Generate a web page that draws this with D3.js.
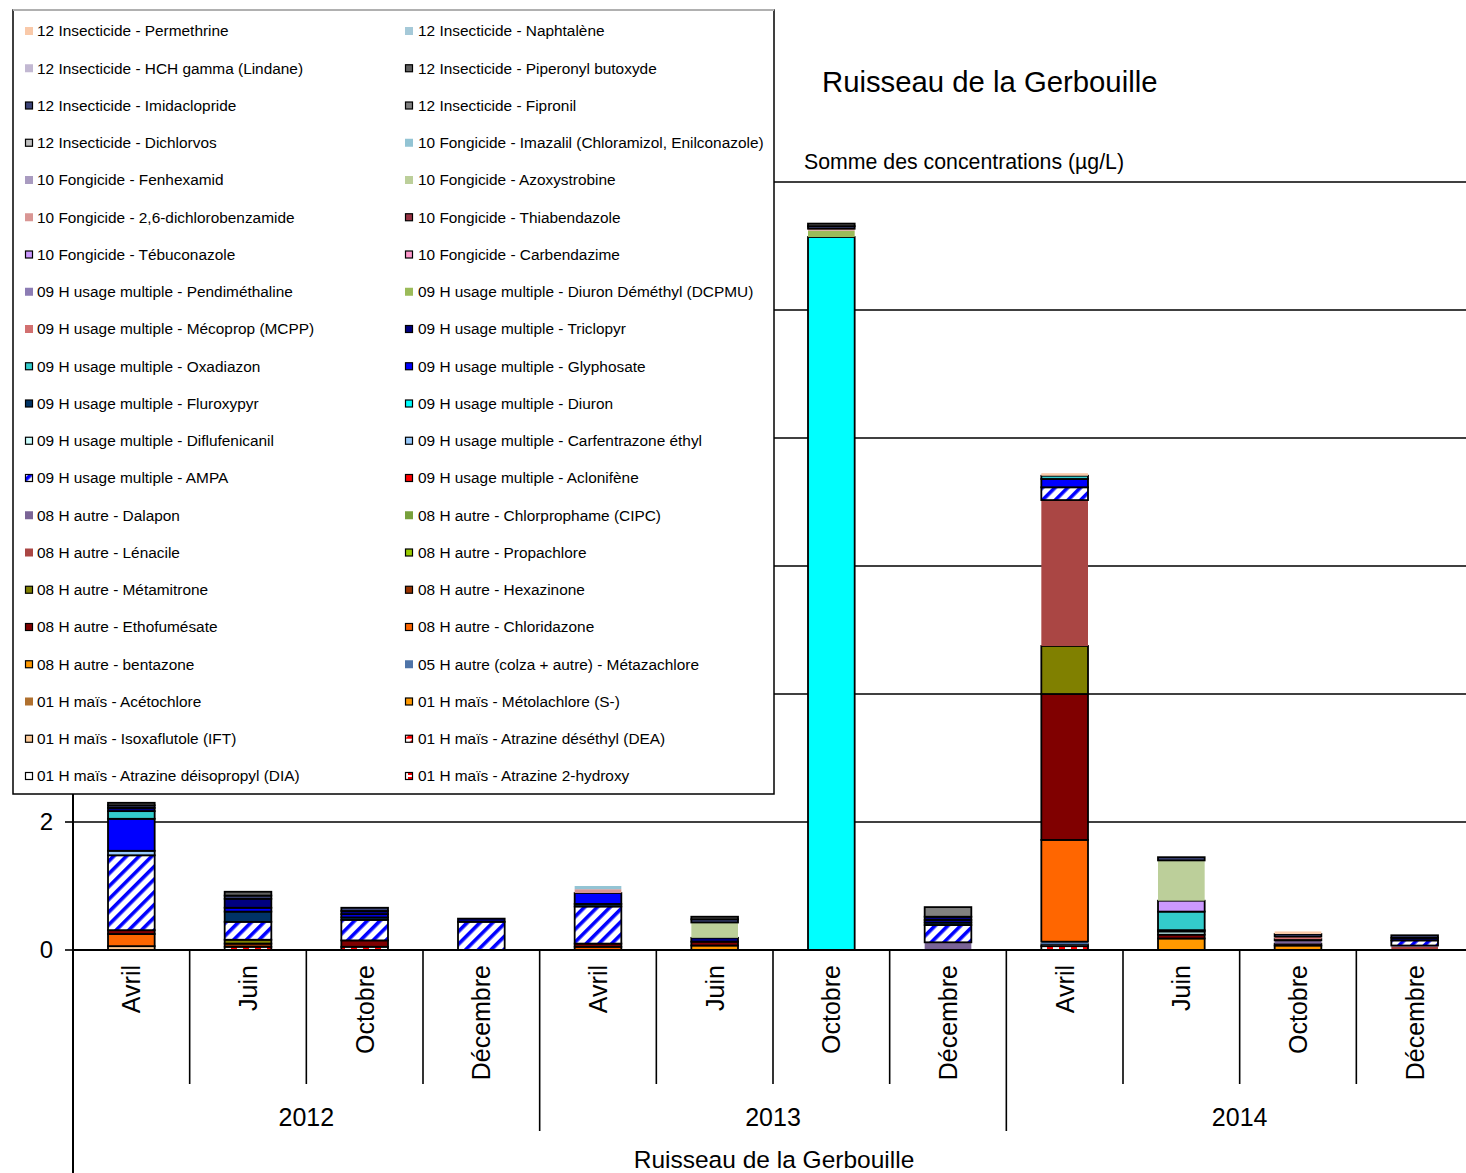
<!DOCTYPE html>
<html>
<head>
<meta charset="utf-8">
<script src="https://cdn.jsdelivr.net/npm/d3@7"></script>
<style>
  body { margin: 0; background: #fff; }
  svg { display: block; font-family: "Liberation Sans", Arial, sans-serif; }
</style>
</head>
<body>
<svg id="chart" width="1466" height="1173"></svg>
<script>
// ---- Data -------------------------------------------------------------
const months = ["Avril", "Juin", "Octobre", "Décembre",
                "Avril", "Juin", "Octobre", "Décembre",
                "Avril", "Juin", "Octobre", "Décembre"];
const years = ["2012", "2013", "2014"];
const yTicks = [0, 2, 4, 6, 8, 10, 12];

// Legend order (read row by row, two columns); stacking goes the other way round.
const seriesNames = [
  "12 Insecticide - Permethrine", "12 Insecticide - Naphtalène",
  "12 Insecticide - HCH gamma (Lindane)", "12 Insecticide - Piperonyl butoxyde",
  "12 Insecticide - Imidaclopride", "12 Insecticide - Fipronil",
  "12 Insecticide - Dichlorvos", "10 Fongicide - Imazalil (Chloramizol, Enilconazole)",
  "10 Fongicide - Fenhexamid", "10 Fongicide - Azoxystrobine",
  "10 Fongicide - 2,6-dichlorobenzamide", "10 Fongicide - Thiabendazole",
  "10 Fongicide - Tébuconazole", "10 Fongicide - Carbendazime",
  "09 H usage multiple - Pendiméthaline", "09 H usage multiple - Diuron Déméthyl (DCPMU)",
  "09 H usage multiple - Mécoprop (MCPP)", "09 H usage multiple - Triclopyr",
  "09 H usage multiple - Oxadiazon", "09 H usage multiple - Glyphosate",
  "09 H usage multiple - Fluroxypyr", "09 H usage multiple - Diuron",
  "09 H usage multiple - Diflufenicanil", "09 H usage multiple - Carfentrazone éthyl",
  "09 H usage multiple - AMPA", "09 H usage multiple - Aclonifène",
  "08 H autre - Dalapon", "08 H autre - Chlorprophame (CIPC)",
  "08 H autre - Lénacile", "08 H autre - Propachlore",
  "08 H autre - Métamitrone", "08 H autre - Hexazinone",
  "08 H autre - Ethofumésate", "08 H autre - Chloridazone",
  "08 H autre - bentazone", "05 H autre (colza + autre) - Métazachlore",
  "01 H maïs - Acétochlore", "01 H maïs - Métolachlore (S-)",
  "01 H maïs - Isoxaflutole (IFT)", "01 H maïs - Atrazine déséthyl (DEA)",
  "01 H maïs - Atrazine déisopropyl (DIA)", "01 H maïs - Atrazine 2-hydroxy"
];

const seriesFills = [
  "#F9C9A9", "#A5C9D8",
  "#C2B8D2", "#606060",
  "#3C4478", "#808080",
  "#C0C0C0", "#93C4D4",
  "#A99BC0", "#BCCF9A",
  "#D99694", "#993344",
  "#CC99FF", "#FF99CC",
  "#8C7CB4", "#9BBB59",
  "#D27070", "#000080",
  "#33CCCC", "#0000FF",
  "#003366", "#00FFFF",
  "#CCFFFF", "#99CCFF",
  "url(#hatchAmpa)", "#FF0000",
  "#7A6496", "#77A03C",
  "#AA4644", "#99CC00",
  "#808000", "#993300",
  "#800000", "#FF6600",
  "#FF9900", "#4F74A8",
  "#B0702E", "#FF9900",
  "#FFCC99", "url(#splitDea)",
  "#FFFFFF", "url(#dashHydroxy)"
];

const seriesOutlined = [
  false, false,
  false, true,
  true, true,
  true, false,
  false, false,
  false, true,
  true, true,
  false, false,
  false, true,
  true, true,
  true, true,
  true, true,
  true, true,
  false, false,
  false, true,
  true, true,
  true, true,
  true, false,
  false, true,
  true, true,
  true, true
];

// Concentrations (µg/L) per sampling date, Avril 2012 … Décembre 2014
const permethrine    = [0, 0, 0, 0, 0, 0, 0, 0, 0.04, 0, 0.04, 0];
const piperonyl      = [0.04, 0.06, 0, 0, 0, 0.04, 0.04, 0, 0, 0, 0, 0];
const imidaclopride  = [0.04, 0.05, 0.05, 0, 0, 0.05, 0.04, 0, 0, 0.05, 0.04, 0.04];
const fipronil       = [0, 0, 0, 0, 0, 0, 0, 0.15, 0, 0, 0, 0];
const imazalil       = [0, 0, 0, 0, 0.05, 0, 0, 0, 0, 0, 0, 0];
const azoxystrobine  = [0, 0, 0, 0, 0, 0.24, 0, 0, 0, 0.63, 0, 0];
const dichlorobenzamide = [0, 0, 0, 0, 0.06, 0, 0.03, 0, 0, 0, 0, 0];
const tebuconazole   = [0, 0, 0, 0, 0, 0, 0, 0, 0, 0.17, 0, 0];
const dcpmu          = [0, 0, 0, 0, 0, 0, 0.10, 0, 0, 0, 0, 0];
const mecoprop       = [0, 0, 0, 0, 0, 0, 0, 0, 0, 0, 0.04, 0];
const triclopyr      = [0.05, 0.14, 0.05, 0.05, 0, 0.06, 0, 0.05, 0, 0, 0.02, 0.04];
const oxadiazon      = [0.12, 0, 0, 0, 0, 0, 0, 0, 0.05, 0.29, 0, 0];
const glyphosate     = [0.50, 0.06, 0.05, 0, 0.17, 0, 0, 0.04, 0.13, 0, 0, 0];
const fluroxypyr     = [0, 0.16, 0.04, 0, 0.04, 0, 0, 0.04, 0, 0.02, 0, 0];
const diuron         = [0, 0, 0, 0, 0, 0, 11.14, 0, 0, 0, 0, 0];
const diflufenicanil = [0, 0, 0, 0, 0, 0, 0, 0, 0, 0.05, 0, 0];
const carfentrazone  = [0.07, 0, 0, 0, 0, 0, 0, 0, 0, 0, 0, 0];
const ampa           = [1.17, 0.28, 0.32, 0.44, 0.58, 0, 0, 0.27, 0.20, 0, 0, 0.08];
const dalapon        = [0, 0, 0, 0, 0, 0, 0, 0.12, 0, 0, 0.05, 0.02];
const lenacile       = [0, 0, 0, 0, 0, 0, 0, 0, 2.28, 0, 0, 0.05];
const metamitrone    = [0, 0.06, 0, 0, 0, 0, 0, 0, 0.75, 0, 0, 0];
const hexazinone     = [0, 0.05, 0, 0, 0, 0, 0, 0, 0, 0, 0, 0];
const ethofumesate   = [0.06, 0, 0.10, 0, 0.05, 0.06, 0, 0, 2.28, 0.06, 0.03, 0];
const chloridazone   = [0.19, 0, 0, 0, 0.05, 0, 0, 0, 1.59, 0, 0, 0];
const metazachlore   = [0, 0, 0, 0, 0, 0, 0, 0, 0.04, 0, 0, 0];
const metolachlore   = [0, 0, 0, 0, 0, 0.07, 0, 0, 0, 0.18, 0.07, 0];
const isoxaflutole   = [0.06, 0, 0, 0, 0, 0, 0, 0, 0, 0, 0, 0];
const atrazineDia    = [0, 0, 0, 0, 0, 0, 0, 0, 0.03, 0, 0, 0];
const atrazineHydroxy = [0, 0.05, 0.05, 0, 0, 0, 0, 0, 0.06, 0, 0, 0];

const seriesValues = new Map([
  ["12 Insecticide - Permethrine", permethrine],
  ["12 Insecticide - Piperonyl butoxyde", piperonyl],
  ["12 Insecticide - Imidaclopride", imidaclopride],
  ["12 Insecticide - Fipronil", fipronil],
  ["10 Fongicide - Imazalil (Chloramizol, Enilconazole)", imazalil],
  ["10 Fongicide - Azoxystrobine", azoxystrobine],
  ["10 Fongicide - 2,6-dichlorobenzamide", dichlorobenzamide],
  ["10 Fongicide - Tébuconazole", tebuconazole],
  ["09 H usage multiple - Diuron Déméthyl (DCPMU)", dcpmu],
  ["09 H usage multiple - Mécoprop (MCPP)", mecoprop],
  ["09 H usage multiple - Triclopyr", triclopyr],
  ["09 H usage multiple - Oxadiazon", oxadiazon],
  ["09 H usage multiple - Glyphosate", glyphosate],
  ["09 H usage multiple - Fluroxypyr", fluroxypyr],
  ["09 H usage multiple - Diuron", diuron],
  ["09 H usage multiple - Diflufenicanil", diflufenicanil],
  ["09 H usage multiple - Carfentrazone éthyl", carfentrazone],
  ["09 H usage multiple - AMPA", ampa],
  ["08 H autre - Dalapon", dalapon],
  ["08 H autre - Lénacile", lenacile],
  ["08 H autre - Métamitrone", metamitrone],
  ["08 H autre - Hexazinone", hexazinone],
  ["08 H autre - Ethofumésate", ethofumesate],
  ["08 H autre - Chloridazone", chloridazone],
  ["05 H autre (colza + autre) - Métazachlore", metazachlore],
  ["01 H maïs - Métolachlore (S-)", metolachlore],
  ["01 H maïs - Isoxaflutole (IFT)", isoxaflutole],
  ["01 H maïs - Atrazine déisopropyl (DIA)", atrazineDia],
  ["01 H maïs - Atrazine 2-hydroxy", atrazineHydroxy]
]);

// ---- Layout -----------------------------------------------------------
const W = 1466, H = 1173;
// the category axis runs a little past the right edge of the page
const plotLeft = 73, plotRight = 1473, plotBottom = 950, plotTop = 182;
const legendBox = { x: 13, y: 10, w: 761, h: 784 };
const svg = d3.select("#chart");
const font = "'Liberation Sans', Arial, sans-serif";

// Fill patterns
const defs = svg.append("defs");
const hatch = defs.append("pattern").attr("id", "hatchAmpa")
  .attr("patternUnits", "userSpaceOnUse").attr("width", 9).attr("height", 9)
  .attr("patternTransform", "rotate(45)");
hatch.append("rect").attr("width", 9).attr("height", 9).attr("fill", "#fff");
hatch.append("rect").attr("width", 3.6).attr("height", 9).attr("fill", "#0000FF");

const split = defs.append("pattern").attr("id", "splitDea")
  .attr("patternUnits", "userSpaceOnUse").attr("width", 8).attr("height", 8);
split.append("rect").attr("width", 8).attr("height", 8).attr("fill", "#fff");
split.append("path").attr("d", "M0,8 L8,0 L8,8 Z").attr("fill", "#FF0000");

const dash = defs.append("pattern").attr("id", "dashHydroxy")
  .attr("patternUnits", "userSpaceOnUse").attr("width", 12).attr("height", 5);
dash.append("rect").attr("width", 12).attr("height", 5).attr("fill", "#fff");
dash.append("rect").attr("x", 3).attr("y", 1).attr("width", 6).attr("height", 3).attr("fill", "#FF0000");

// Scales
const idx = d3.range(months.length);
const x = d3.scaleBand().domain(idx).range([plotLeft, plotRight])
  .paddingInner(0.6).paddingOuter(0.3);
const y = d3.scaleLinear().domain([0, 12]).range([plotBottom, plotTop]);

// Stacked table
const stackKeys = seriesNames.slice().reverse();
const table = idx.map(i => {
  const row = { i };
  stackKeys.forEach(k => { const v = seriesValues.get(k); row[k] = v ? v[i] : 0; });
  return row;
});
const stacked = d3.stack().keys(stackKeys)(table);
const fillOf = name => seriesFills[seriesNames.indexOf(name)];
const outlineOf = name => seriesOutlined[seriesNames.indexOf(name)];

// Horizontal gridlines
svg.append("g").selectAll("line").data(yTicks.filter(t => t > 0)).join("line")
  .attr("x1", plotLeft).attr("x2", plotRight)
  .attr("y1", d => y(d)).attr("y2", d => y(d))
  .attr("stroke", "#000").attr("stroke-width", 1.6);

// Bars
const barLayer = svg.append("g");
stacked.forEach(s => {
  const outlined = outlineOf(s.key);
  barLayer.append("g").selectAll("rect")
    .data(s.filter(d => d[1] - d[0] > 0))
    .join("rect")
    .attr("x", d => x(d.data.i))
    .attr("width", x.bandwidth())
    .attr("y", d => y(d[1]))
    .attr("height", d => y(d[0]) - y(d[1]))
    .attr("fill", fillOf(s.key))
    .attr("stroke", outlined ? "#000" : "none")
    .attr("stroke-width", outlined ? 1.8 : 0);
});

// Y axis (upper labels sit under the legend box, so only the visible ones are written)
const yAxis = svg.append("g");
yAxis.append("line").attr("x1", plotLeft).attr("x2", plotLeft)
  .attr("y1", plotTop).attr("y2", H).attr("stroke", "#000").attr("stroke-width", 2);
yAxis.selectAll(".tk").data(yTicks).join("line")
  .attr("x1", plotLeft - 8).attr("x2", plotLeft)
  .attr("y1", d => y(d)).attr("y2", d => y(d))
  .attr("stroke", "#000").attr("stroke-width", 1.6);
yAxis.selectAll("text").data(yTicks.filter(t => y(t) > legendBox.y + legendBox.h + 12)).join("text")
  .attr("x", plotLeft - 20).attr("y", d => y(d)).attr("dy", "0.35em")
  .attr("text-anchor", "end").attr("font-size", 24).attr("font-family", font)
  .text(d => d);

// X axis baseline
svg.append("line").attr("x1", plotLeft).attr("x2", plotRight)
  .attr("y1", y(0)).attr("y2", y(0)).attr("stroke", "#000").attr("stroke-width", 2);

// Category separators (months) and year separators
const step = x.step();
const bounds = d3.range(months.length + 1).map(i => plotLeft + i * step);
svg.append("g").selectAll("line").data(bounds.slice(1, -1)).join("line")
  .attr("x1", d => d).attr("x2", d => d)
  .attr("y1", y(0)).attr("y2", (d, i) => ((i + 1) % 4 === 0) ? 1131 : 1084)
  .attr("stroke", "#000").attr("stroke-width", 1.6);

// Month labels (rotated)
svg.append("g").selectAll("text").data(idx).join("text")
  .attr("transform", i => `translate(${x(i) + x.bandwidth() / 2},965) rotate(-90)`)
  .attr("dy", "0.36em").attr("text-anchor", "end")
  .attr("font-size", 25).attr("font-family", font)
  .text(i => months[i]);

// Year labels
svg.append("g").selectAll("text").data(years).join("text")
  .attr("x", (d, j) => plotLeft + (j * 4 + 2) * step)
  .attr("y", 1126).attr("text-anchor", "middle")
  .attr("font-size", 25).attr("font-family", font)
  .text(d => d);

// Axis title
svg.append("text").attr("x", 774).attr("y", 1168).attr("text-anchor", "middle")
  .attr("font-size", 24.5).attr("font-family", font).text("Ruisseau de la Gerbouille");

// Title and subtitle
svg.append("text").attr("x", 822).attr("y", 92)
  .attr("font-size", 29.3).attr("font-family", font).text("Ruisseau de la Gerbouille");
svg.append("text").attr("x", 804).attr("y", 169)
  .attr("font-size", 21.3).attr("font-family", font).text("Somme des concentrations (µg/L)");

// Legend
const lg = svg.append("g");
lg.append("rect").attr("x", legendBox.x).attr("y", legendBox.y)
  .attr("width", legendBox.w).attr("height", legendBox.h)
  .attr("fill", "#fff").attr("stroke", "#000").attr("stroke-width", 1.5);
lg.append("line").attr("x1", legendBox.x).attr("x2", legendBox.x + legendBox.w)
  .attr("y1", legendBox.y).attr("y2", legendBox.y)
  .attr("stroke", "#b0b0b0").attr("stroke-width", 2);
const rowGap = 37.25;
const items = lg.selectAll("g.item").data(seriesNames).join("g")
  .attr("transform", (d, i) => `translate(${i % 2 === 0 ? 25 : 405},${31 + Math.floor(i / 2) * rowGap})`);
items.append("rect")
  .attr("x", (d, i) => seriesOutlined[i] ? 0.5 : 0)
  .attr("y", (d, i) => seriesOutlined[i] ? -3.5 : -4)
  .attr("width", (d, i) => seriesOutlined[i] ? 7 : 8)
  .attr("height", (d, i) => seriesOutlined[i] ? 7 : 8)
  .attr("fill", (d, i) => seriesFills[i])
  .attr("stroke", (d, i) => seriesOutlined[i] ? "#000" : "none")
  .attr("stroke-width", 1.2);
items.append("text").attr("x", (d, i) => i % 2 === 0 ? 12 : 13).attr("dy", "0.35em")
  .attr("font-size", 15.4).attr("font-family", font)
  .text(d => d);
</script>
</body>
</html>
